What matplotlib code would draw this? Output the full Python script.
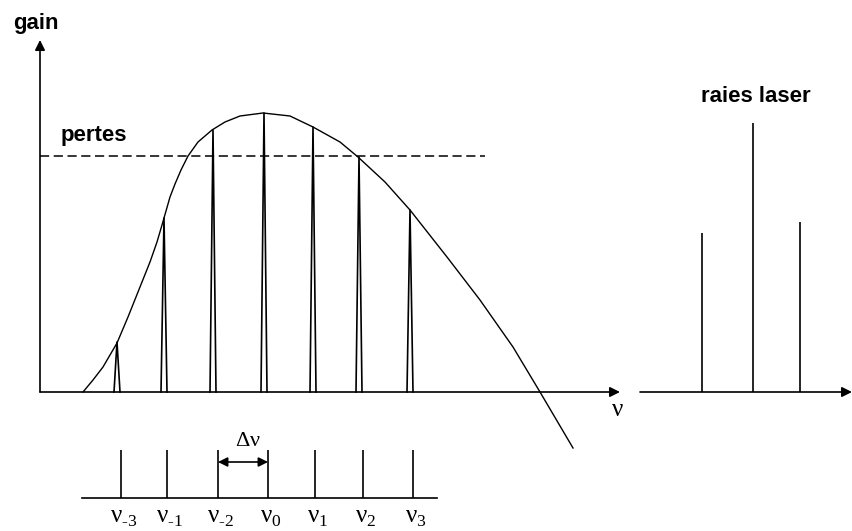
import matplotlib.pyplot as plt

plt.rcParams["font.family"] = ["Liberation Sans", "DejaVu Sans"]
plt.rcParams["mathtext.fontset"] = "custom"
plt.rcParams["mathtext.rm"] = "Liberation Serif"

# gain curve (x in px, gain above the baseline)
curve_x = [83, 93, 103, 117, 128, 140, 150, 157, 162, 166, 170, 175, 181, 188, 198,
           212, 225, 240, 263, 290, 313, 340, 358, 385, 410, 447, 480, 513, 540, 573]
curve_gain = [0, 12, 25, 49, 75, 105, 130, 150, 167, 181, 195, 208, 222, 236, 250,
              262, 270, 276, 279, 276, 265, 250, 235, 210, 182, 135, 92, 45, 0, -56]

# longitudinal modes under the gain curve
mode_x = [117, 164, 213, 264, 313, 359, 410]
mode_gain = [50, 174, 262, 279, 265, 235, 182]
pertes = 236

# lines that actually lase
laser_x = [702, 753, 800]
laser_gain = [159, 269, 170]

# comb of cavity frequencies
comb_x = [121, 167, 218, 268, 315, 363, 413]
comb_labels = ["\u20103", "\u20101", "\u20102", "0", "1", "2", "3"]

fig = plt.figure(figsize=(8.53, 5.31), dpi=100)
ax = fig.add_axes([0, 0, 1, 1])
ax.set_xlim(0, 853)
ax.set_ylim(-139, 392)
ax.axis("off")

arrow = dict(arrowstyle="-|>", lw=1.2, color="k", mutation_scale=15, shrinkA=0, shrinkB=0)

# axes of the gain plot
ax.annotate("", xy=(40, 352), xytext=(40, 0), arrowprops=arrow)
ax.annotate("", xy=(620, 0), xytext=(40, 0), arrowprops=arrow)
ax.text(36, 368, "gain", fontsize=16, fontweight="bold", ha="center", va="center")
ax.text(617, -17, r"$\mathrm{ν}$", fontsize=18, ha="center", va="center")

# gain curve and losses
ax.plot(curve_x, curve_gain, color="k", lw=1.0)
ax.plot([40, 485], [pertes, pertes], color="k", lw=1.1, ls=(0, (6, 3)))
ax.text(94, 256, "pertes", fontsize=16, fontweight="bold", ha="center", va="center")

# modes as thin spikes
for x, g in zip(mode_x, mode_gain):
    ax.plot([x - 3, x, x + 3], [0, g, 0], color="k", lw=1.2)

# laser lines on the right
ax.annotate("", xy=(852, 0), xytext=(640, 0), arrowprops=arrow)
ax.vlines(laser_x, 0, laser_gain, color="k", lw=1.2)
ax.text(756, 295, "raies laser", fontsize=16, fontweight="bold", ha="center", va="center")

# cavity comb
ax.plot([82, 437], [-106, -106], color="k", lw=1.2)
ax.vlines(comb_x, -106, -58, color="k", lw=1.2)
for x, lab in zip(comb_x, comb_labels):
    ax.text(x + 3, -125, r"$\mathrm{ν}_{\mathrm{%s}}$" % lab, fontsize=18,
            ha="center", va="center")

ax.annotate("", xy=(268, -70), xytext=(218, -70),
            arrowprops=dict(arrowstyle="<|-|>", lw=1.2, color="k", mutation_scale=14,
                            shrinkA=0, shrinkB=0))
ax.text(248, -49, r"$\mathrm{Δν}$", fontsize=16, ha="center", va="center")

fig.savefig("out.png", dpi=100)
